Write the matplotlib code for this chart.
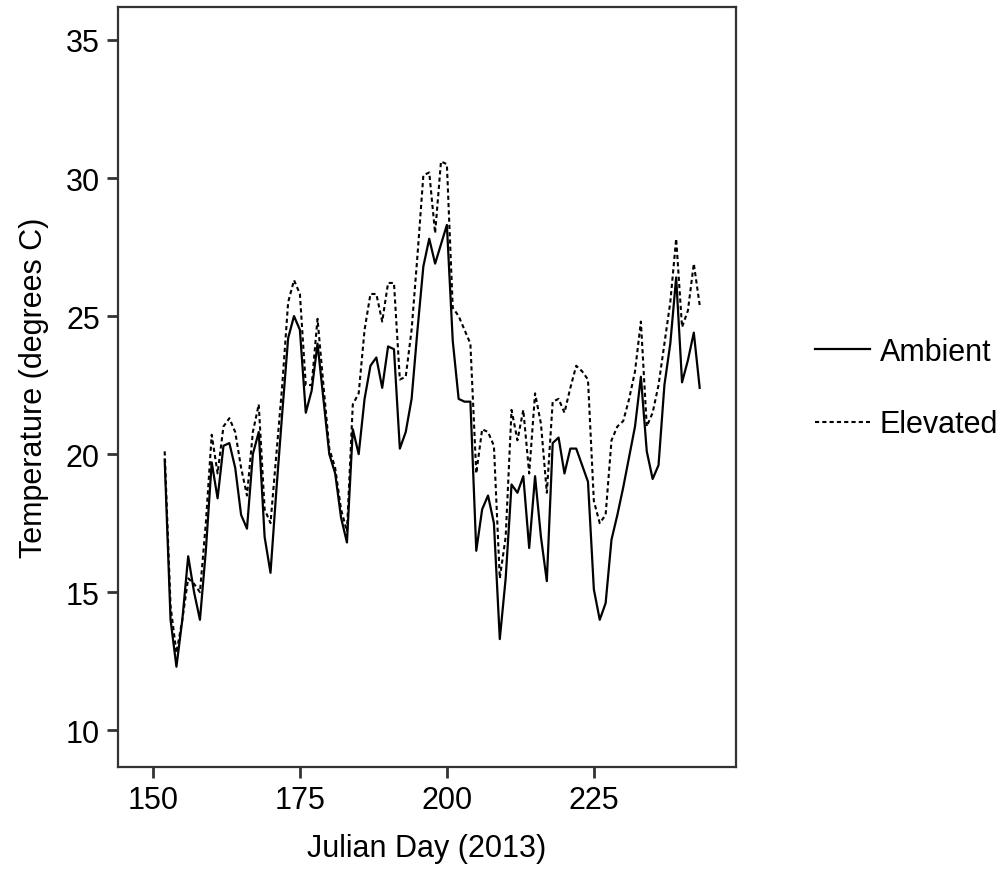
import matplotlib
matplotlib.use("Agg")
import matplotlib.pyplot as plt

# Julian days (2013)
days = list(range(152, 244))

# mean daily temperature, ambient plots
ambient = [
    19.8, 14.0, 12.3, 14.0, 16.3, 15.0, 14.0, 16.5, 19.7, 18.4,
    20.3, 20.4, 19.5, 17.8, 17.3, 20.0, 20.8, 17.0, 15.7, 18.7,
    21.5, 24.2, 25.0, 24.5, 21.5, 22.3, 24.0, 22.0, 20.0, 19.3,
    17.7, 16.8, 20.9, 20.0, 22.0, 23.2, 23.5, 22.4, 23.9, 23.8,
    20.2, 20.8, 22.0, 24.5, 26.8, 27.8, 26.9, 27.6, 28.3, 24.1,
    22.0, 21.9, 21.9, 16.5, 18.0, 18.5, 17.5, 13.3, 15.5, 18.9,
    18.6, 19.2, 16.6, 19.2, 17.0, 15.4, 20.4, 20.6, 19.3, 20.2,
    20.2, 19.6, 19.0, 15.1, 14.0, 14.6, 16.9, 17.8, 18.8, 19.9,
    21.0, 22.8, 20.1, 19.1, 19.6, 22.5, 24.0, 26.4, 22.6, 23.4,
    24.4, 22.4,
]

# mean daily temperature, elevated (warmed) plots
elevated = [
    20.1, 14.5, 12.8, 14.0, 15.5, 15.3, 15.0, 17.5, 20.7, 19.3,
    21.0, 21.3, 20.8, 19.5, 18.5, 20.8, 21.8, 18.0, 17.5, 20.0,
    22.5, 25.5, 26.3, 25.8, 22.5, 22.5, 24.9, 22.5, 20.2, 19.5,
    18.0, 17.2, 21.8, 22.2, 24.5, 25.8, 25.8, 24.8, 26.2, 26.2,
    22.7, 22.8, 24.5, 27.2, 30.1, 30.2, 28.0, 30.6, 30.5, 25.3,
    25.0, 24.5, 24.0, 19.3, 20.9, 20.8, 20.3, 15.5, 17.0, 21.6,
    20.5, 21.6, 19.3, 22.2, 21.1, 18.6, 21.9, 22.0, 21.5, 22.4,
    23.2, 23.0, 22.7, 18.3, 17.5, 17.8, 20.5, 21.0, 21.2, 22.0,
    23.0, 24.8, 21.0, 21.5, 22.5, 24.0, 25.5, 27.8, 24.6, 25.2,
    26.9, 25.4,
]

xticks = [150, 175, 200, 225]
yticks = [10, 15, 20, 25, 30, 35]

plt.rcParams['font.family'] = ['Liberation Sans', 'DejaVu Sans']

fig = plt.figure(figsize=(10.08, 8.7), dpi=100)
ax = fig.add_axes([0.117, 0.117, 0.613, 0.874])

ax.plot(days, ambient, color='black', linestyle='-', linewidth=1.6, label='Ambient')
ax.plot(days, elevated, color='black', linestyle=(0, (2, 1.5)), linewidth=1.5, label='Elevated')

ax.set_xlim(144.05, 249.15)
ax.set_ylim(8.66, 36.2)
ax.set_xticks(xticks)
ax.set_yticks(yticks)
ax.tick_params(axis='both', labelsize=22, length=8, width=2, color='#333333',
               labelcolor='black', pad=5)
for s in ax.spines.values():
    s.set_color('#333333')
    s.set_linewidth(1.6)

ax.set_xlabel('Julian Day (2013)', fontsize=22, labelpad=13)
ax.set_ylabel('Temperature (degrees C)', fontsize=22, labelpad=12)

fig.legend(loc='center left', bbox_to_anchor=(0.781, 0.553), frameon=False,
           fontsize=22, handlelength=1.8, handletextpad=0.33, labelspacing=1.4)

fig.savefig('out.png', dpi=100)
